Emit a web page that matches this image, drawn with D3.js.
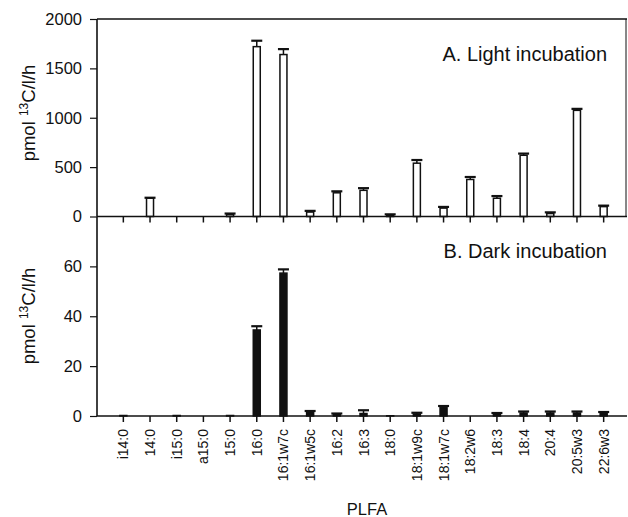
<!DOCTYPE html>
<html>
<head>
<meta charset="utf-8">
<script src="https://cdn.jsdelivr.net/npm/d3@7"></script>
<style>
  body { margin: 0; background: #fff; }
  text { font-family: "Liberation Sans", Arial, sans-serif; fill: #111; }
</style>
</head>
<body>
<div id="chart"></div>
<script>
// PLFA names, one bar per name in each panel
const plfa = ["i14:0","14:0","i15:0","a15:0","15:0","16:0","16:1w7c","16:1w5c","16:2","16:3",
              "18:0","18:1w9c","18:1w7c","18:2w6","18:3","18:4","20:4","20:5w3","22:6w3"];

// A. light incubation (pmol 13C/l/h) and error
const lightVals = [0, 185, 0, 0, 20, 1720, 1640, 45, 240, 265, 15, 540, 85, 375, 185, 620, 30, 1075, 100];
const lightErr  = [0, 5, 0, 0, 10, 60, 55, 12, 15, 22, 7, 32, 12, 25, 22, 17, 12, 15, 10];

// B. dark incubation
const darkVals = [0.2, 0, 0.2, 0, 0.2, 34.5, 57.3, 1.3, 0.7, 1.0, 0.1, 0.8, 3.3, 0, 0.8, 1.2, 1.2, 1.2, 1.0];
const darkErr  = [0, 0, 0, 0, 0, 1.5, 1.5, 0.7, 0.3, 1.3, 0, 0.5, 0.7, 0, 0.4, 0.6, 0.6, 0.6, 0.6];

const lightTicks = [0, 500, 1000, 1500, 2000];
const darkTicks = [0, 20, 40, 60];

const width = 628, height = 517;
const left = 97, right = 627;
const top1 = 19, zero1 = 216.5, zero2 = 416;

const svg = d3.select("#chart").append("svg")
  .attr("width", width).attr("height", height);

const x = d3.scaleBand().domain(plfa).range([110, 617]);
const yA = d3.scaleLinear().domain([0, 2000]).range([zero1, top1]);
const yB = d3.scaleLinear().domain([0, 80]).range([zero2, zero1]);

const barW = 7, capW = 11;
const cx = d => x(d.name) + x.bandwidth() / 2;

function panel(y, vals, errs, ticks, fill, title, titleY, labelY) {
  const rows = plfa.map((name, i) => ({ name: name, v: vals[i], e: errs[i] }));
  const g = svg.append("g");

  // y axis
  const ax = g.append("g").attr("transform", `translate(${left},0)`)
    .call(d3.axisLeft(y).tickValues(ticks).tickSize(7).tickPadding(8).tickFormat(d3.format("d")));
  ax.select(".domain").remove();
  ax.selectAll("line").attr("stroke", "#111").attr("stroke-width", 1.2);
  ax.selectAll("text").style("font-size", "16.5px").style("fill", "#111");
  g.append("line").attr("x1", left).attr("x2", left)
    .attr("y1", y.range()[1]).attr("y2", y.range()[0])
    .attr("stroke", "#111").attr("stroke-width", 1.6);

  // error bars (upper only)
  const withErr = rows.filter(d => d.e > 0);
  g.selectAll(".stem").data(withErr).enter().append("line")
    .attr("x1", cx).attr("x2", cx)
    .attr("y1", d => y(d.v)).attr("y2", d => y(d.v + d.e))
    .attr("stroke", "#111").attr("stroke-width", 1.5);
  g.selectAll(".cap").data(withErr).enter().append("line")
    .attr("x1", d => cx(d) - capW / 2).attr("x2", d => cx(d) + capW / 2)
    .attr("y1", d => y(d.v + d.e)).attr("y2", d => y(d.v + d.e))
    .attr("stroke", "#111").attr("stroke-width", 2.2);

  // bars
  g.selectAll(".bar").data(rows.filter(d => d.v > 0)).enter().append("rect")
    .attr("x", d => cx(d) - barW / 2)
    .attr("width", barW)
    .attr("y", d => y(d.v))
    .attr("height", d => y(0) - y(d.v))
    .attr("fill", fill).attr("stroke", "#111").attr("stroke-width", 1.5);

  // x axis at zero with ticks down
  const xa = g.append("g").attr("transform", `translate(0,${y(0)})`)
    .call(d3.axisBottom(x).tickSize(6).tickFormat(""));
  xa.select(".domain").remove();
  xa.selectAll("line").attr("stroke", "#111").attr("stroke-width", 1.5);
  g.append("line").attr("x1", left).attr("x2", right)
    .attr("y1", y(0)).attr("y2", y(0))
    .attr("stroke", "#111").attr("stroke-width", 1.6);

  g.append("text").attr("x", 607).attr("y", titleY)
    .attr("text-anchor", "end").style("font-size", "20px").text(title);

  // y label
  const lab = g.append("text")
    .attr("transform", `translate(35,${labelY}) rotate(-90)`)
    .attr("text-anchor", "middle").style("font-size", "18.5px");
  lab.append("tspan").text("pmol ");
  lab.append("tspan").attr("dy", -7).style("font-size", "12px").text("13");
  lab.append("tspan").attr("dy", 7).text("C/l/h");
}

panel(yA, lightVals, lightErr, lightTicks, "#fff", "A. Light incubation", 61, 113);
panel(yB, darkVals, darkErr, darkTicks, "#111", "B. Dark incubation", 258, 316);

// frame of top panel
svg.append("line").attr("x1", left).attr("x2", right).attr("y1", top1).attr("y2", top1)
  .attr("stroke", "#111").attr("stroke-width", 1.6);
svg.append("line").attr("x1", 626).attr("x2", 626).attr("y1", top1).attr("y2", zero1)
  .attr("stroke", "#111").attr("stroke-width", 1);

// category labels
svg.append("g").selectAll("text").data(plfa).enter().append("text")
  .attr("transform", d => `translate(${x(d) + x.bandwidth() / 2 + 5},429) rotate(-90)`)
  .attr("text-anchor", "end")
  .style("font-size", "14px")
  .text(d => d);

svg.append("text").attr("x", 367).attr("y", 515)
  .attr("text-anchor", "middle").style("font-size", "16.5px").text("PLFA");
</script>
</body>
</html>
